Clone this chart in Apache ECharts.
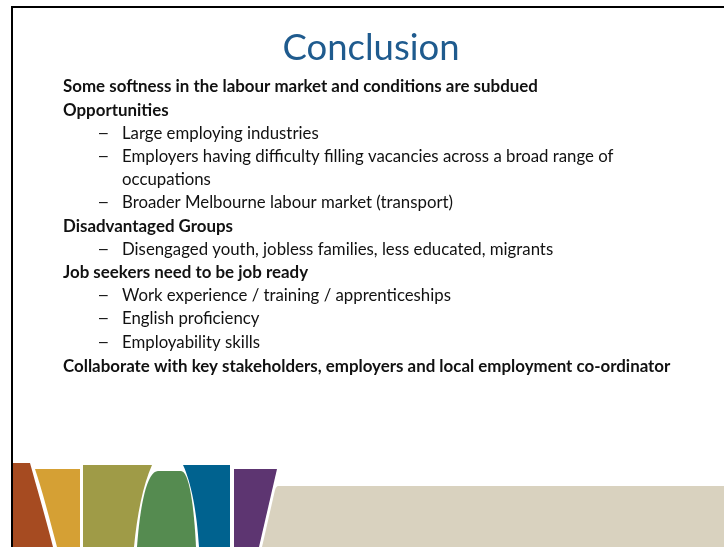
<!DOCTYPE html>
<html>
<head>
<meta charset="utf-8">
<script src="https://cdn.jsdelivr.net/npm/echarts@6/dist/echarts.min.js"></script>
<style>
  html, body { margin: 0; padding: 0; background: #fff; }
  #slide { width: 724px; height: 547px; }
</style>
</head>
<body>
<div id="slide"></div>
<script>
// slide text
var titleText = 'Conclusion';
var headings = [
    'Some softness in the labour market and conditions are subdued',
    'Opportunities',
    'Disadvantaged Groups',
    'Job seekers need to be job ready',
    'Collaborate with key stakeholders, employers and local employment co-ordinator'
];
var opportunities = [
    'Large employing industries',
    'Employers having difficulty filling vacancies across a broad range of',
    'occupations',
    'Broader Melbourne labour market (transport)'
];
var disadvantaged = [
    'Disengaged youth, jobless families, less educated, migrants'
];
var jobReady = [
    'Work experience / training / apprenticeships',
    'English proficiency',
    'Employability skills'
];
// colours of the banner strips, left to right
var stripColors = ['#a64b21', '#d5a034', '#9f9b47', '#558b50', '#00628f', '#5d3571', '#d9d2bf'];

var bodyFont = 'Lato, "Open Sans", sans-serif';

function heading(txt) {
    return { kind: 'head', text: txt };
}
function bullet(txt, noDash) {
    return { kind: 'sub', text: txt, dash: !noDash };
}

// reading order of the slide
var lines = [heading(headings[0]), heading(headings[1])];
lines.push(bullet(opportunities[0]));
lines.push(bullet(opportunities[1]));
lines.push(bullet(opportunities[2], true));
lines.push(bullet(opportunities[3]));
lines.push(heading(headings[2]));
disadvantaged.forEach(function (t) { lines.push(bullet(t)); });
lines.push(heading(headings[3]));
jobReady.forEach(function (t) { lines.push(bullet(t)); });
lines.push(heading(headings[4]));

function txtStyle(text, font, align) {
    return { text: text, font: font, fill: '#111',
        textAlign: align, textVerticalAlign: 'middle', align: align, verticalAlign: 'middle' };
}

function buildText() {
    var els = [];
    var y0 = 87, step = 23.2;
    for (var i = 0; i < lines.length; i++) {
        var ln = lines[i];
        var y = y0 + i * step + (i == lines.length - 1 ? 1.5 : 0);
        if (ln.kind == 'head') {
            els.push({ type: 'text', x: 63, y: y, style: txtStyle(ln.text, 'bold 16.9px ' + bodyFont, 'left') });
        } else {
            if (ln.dash) {
                els.push({ type: 'text', x: 97, y: y, scaleX: 1.3, style: txtStyle('\u2013', '16.8px ' + bodyFont, 'left') });
            }
            els.push({ type: 'text', x: 122, y: y, style: txtStyle(ln.text, '16.8px ' + bodyFont, 'left') });
        }
    }
    return els;
}

// decorative banner at the foot of the slide
var stripPaths = [
    'M13,463 L30,463 C36,485 45,515 53,547 L13,547 Z',
    'M35,469 L80,469 L80,547 L57,547 C50,520 42,490 35,469 Z',
    'M83,465 L152,465 C143,485 137,515 134,547 L83,547 Z',
    'M137,547 C140,505 147,471 158,471 L181,471 C189,471 194,505 196,547 Z',
    'M183,465 L230,465 L230,547 L199,547 C197,512 191,482 183,465 Z',
    'M234,469 L277,469 L259,547 L234,547 Z',
    'M278,486 L724,486 L724,547 L262,547 L275,490 C276,487 277,486 278,486 Z'
];
function buildBanner() {
    var els = [];
    for (var i = 0; i < stripPaths.length; i++) {
        echarts.graphic.registerShape('strip' + i, echarts.graphic.extendPath(stripPaths[i], {}));
        els.push({ type: 'strip' + i, style: { fill: stripColors[i] } });
    }
    return els;
}

var myChart = echarts.init(document.getElementById('slide'));
var graphics = [];
// slide frame
graphics.push({ type: 'line', shape: { x1: 11, y1: 7, x2: 724, y2: 7 }, style: { stroke: '#000', lineWidth: 2 } });
graphics.push({ type: 'line', shape: { x1: 12, y1: 6, x2: 12, y2: 547 }, style: { stroke: '#000', lineWidth: 2 } });
graphics.push({ type: 'text', x: 371, y: 48, style: { text: titleText, font: '36.5px ' + bodyFont, fill: '#1f5b8e',
    textAlign: 'center', textVerticalAlign: 'middle', align: 'center', verticalAlign: 'middle' } });
graphics = graphics.concat(buildText(), buildBanner());

var option = {
    backgroundColor: '#fff',
    animation: false,
    graphic: graphics
};
myChart.setOption(option);
</script>
</body>
</html>
